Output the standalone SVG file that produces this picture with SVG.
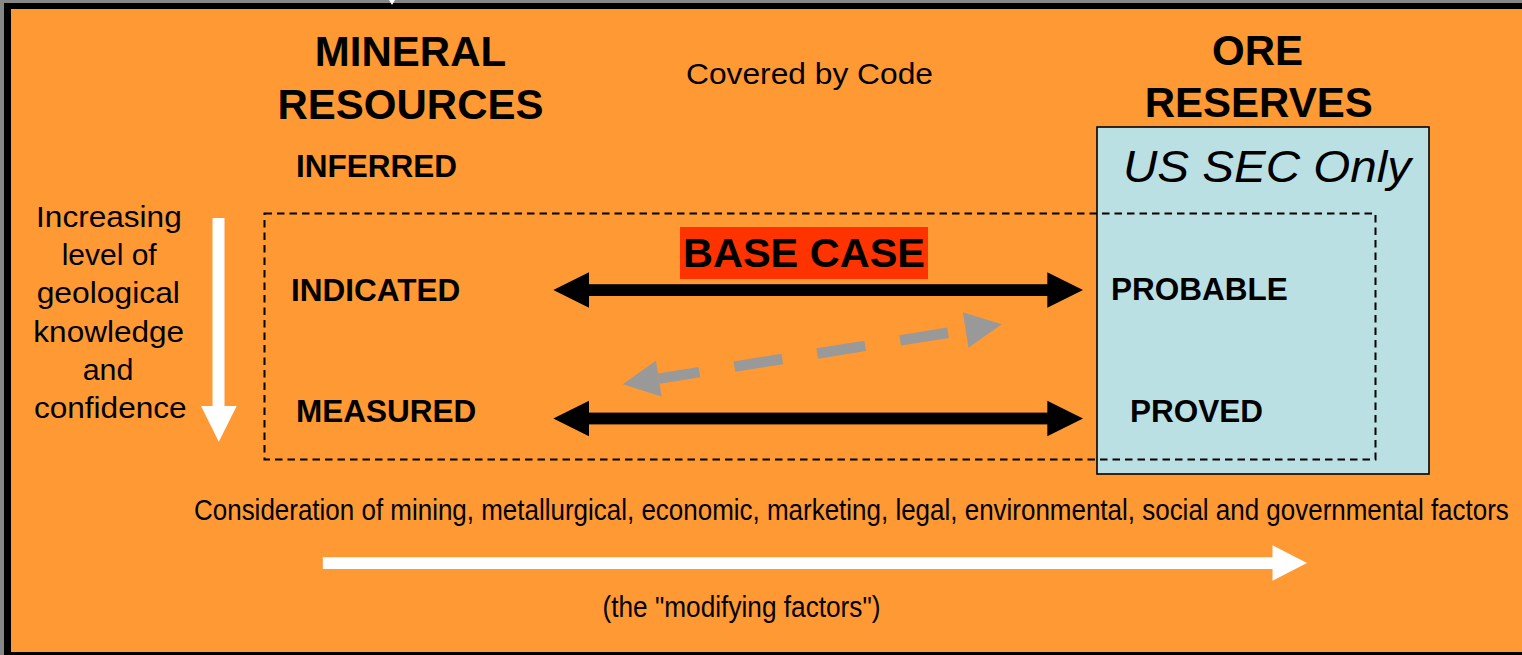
<svg xmlns="http://www.w3.org/2000/svg" width="1522" height="655" viewBox="0 0 1522 655">
  <defs>
    <style>
      .t { font-family: "Liberation Sans", Arial, sans-serif; fill: #000; }
      .b { font-weight: bold; }
      .head { font-size: 42px; font-weight: bold; text-anchor: middle; }
      .cat { font-size: 31.5px; font-weight: bold; }
      .side { font-size: 29px; text-anchor: middle; }
      .blk { fill: #000; }
      .wht { fill: #fff; }
      .gry { fill: #999; }
    </style>
  </defs>

  <!-- frame and background -->
  <rect x="0" y="0" width="1522" height="655" fill="#878787"/>
  <rect x="4" y="3" width="1518" height="652" fill="#000"/>
  <rect x="11" y="9" width="1511" height="643" fill="#FF9933"/>
  <polygon points="389,0 395,0 392,5" fill="#fff"/>

  <!-- column headings -->
  <g id="mineral-resources">
    <text class="t head" x="410.5" y="66">MINERAL</text>
    <text class="t head" x="410.5" y="119">RESOURCES</text>
  </g>
  <g id="covered-by-code">
    <text class="t" x="809.5" y="84.3" font-size="30" text-anchor="middle" textLength="247" lengthAdjust="spacingAndGlyphs">Covered by Code</text>
  </g>

  <!-- US SEC box -->
  <g id="us-sec-box">
    <rect x="1097" y="127" width="332" height="347" fill="#BBE0E3" stroke="#000" stroke-width="1.6"/>
    <text class="t" x="1123" y="182" font-size="44" font-style="italic" textLength="288" lengthAdjust="spacingAndGlyphs">US SEC Only</text>
  </g>

  <g id="ore-reserves">
    <text class="t head" x="1257.5" y="65">ORE</text>
    <text class="t head" x="1258.7" y="116.7">RESERVES</text>
  </g>

  <!-- dashed code boundary -->
  <g id="code-boundary">
    <rect x="264.5" y="213.5" width="1111" height="246" fill="none" stroke="#000" stroke-width="2" stroke-dasharray="7.5 5"/>
  </g>

  <!-- categories -->
  <g id="inferred"><text class="t cat" x="296" y="177">INFERRED</text></g>
  <g id="indicated"><text class="t cat" x="291" y="301">INDICATED</text></g>
  <g id="measured"><text class="t cat" x="296" y="422">MEASURED</text></g>
  <g id="probable"><text class="t cat" x="1111" y="300">PROBABLE</text></g>
  <g id="proved"><text class="t cat" x="1130" y="422">PROVED</text></g>

  <g id="base-case">
    <rect x="680" y="227" width="248" height="52" fill="#FF3300"/>
    <text class="t b" x="804" y="266.7" font-size="40" text-anchor="middle" textLength="242" lengthAdjust="spacingAndGlyphs">BASE CASE</text>
  </g>

  <!-- knowledge axis -->
  <g id="knowledge-label">
    <text class="t side" x="108.9" y="227.3" textLength="145.7" lengthAdjust="spacingAndGlyphs">Increasing</text>
    <text class="t side" x="109.2" y="265.3" textLength="95" lengthAdjust="spacingAndGlyphs">level of</text>
    <text class="t side" x="108.3" y="303.4" textLength="143.3" lengthAdjust="spacingAndGlyphs">geological</text>
    <text class="t side" x="108.7" y="341.6" textLength="150.7" lengthAdjust="spacingAndGlyphs">knowledge</text>
    <text class="t side" x="108" y="379.9" textLength="50.7" lengthAdjust="spacingAndGlyphs">and</text>
    <text class="t side" x="110.3" y="418.2" textLength="152.7" lengthAdjust="spacingAndGlyphs">confidence</text>
  </g>

  <!-- modifying factors (condensed lettering) -->
  <g id="modifying-factors">
    <text class="t" x="0" y="0" font-size="30" transform="translate(194 520) scale(0.866 1)">Consideration of mining, metallurgical, economic, marketing, legal, environmental, social and governmental factors</text>
    <text class="t" x="602.5" y="617" font-size="30" textLength="278" lengthAdjust="spacingAndGlyphs">(the "modifying factors")</text>
  </g>

  <!-- connectors -->
  <g id="connectors">
    <!-- confidence axis arrow -->
    <g id="arrow-confidence" class="wht">
      <rect x="212.5" y="218" width="12" height="189"/>
      <polygon points="201,406 236.7,406 218.8,441.7"/>
    </g>
    <!-- modifying-factors arrow -->
    <g id="arrow-modifying" class="wht">
      <rect x="322.8" y="557.2" width="950.2" height="11.8"/>
      <polygon points="1272.5,545.2 1307,563 1272.5,580.8"/>
    </g>
    <!-- indicated to probable -->
    <g id="arrow-indicated-probable" class="blk">
      <rect x="588" y="284.2" width="460" height="11.8"/>
      <polygon points="553.3,290 589,272.2 589,307.8"/>
      <polygon points="1083,290 1047.3,272.2 1047.3,307.8"/>
    </g>
    <!-- measured to proved -->
    <g id="arrow-measured-proved" class="blk">
      <rect x="588" y="412.6" width="460" height="11.8"/>
      <polygon points="553.3,418.5 589,400.7 589,436.3"/>
      <polygon points="1083,418.5 1047.3,400.7 1047.3,436.3"/>
    </g>
    <!-- conversion between measured and probable -->
    <g id="arrow-conversion">
      <path d="M658.75 378.6 L965.65 330" fill="none" stroke="#999" stroke-width="10.5" stroke-dasharray="48.5 35.4" stroke-dashoffset="7.3"/>
      <polygon class="gry" points="622.7,384.3 661.6,396.4 655.9,360.8"/>
      <polygon class="gry" points="1001.7,324.3 968.5,347.8 962.8,312.2"/>
    </g>
  </g>
</svg>
